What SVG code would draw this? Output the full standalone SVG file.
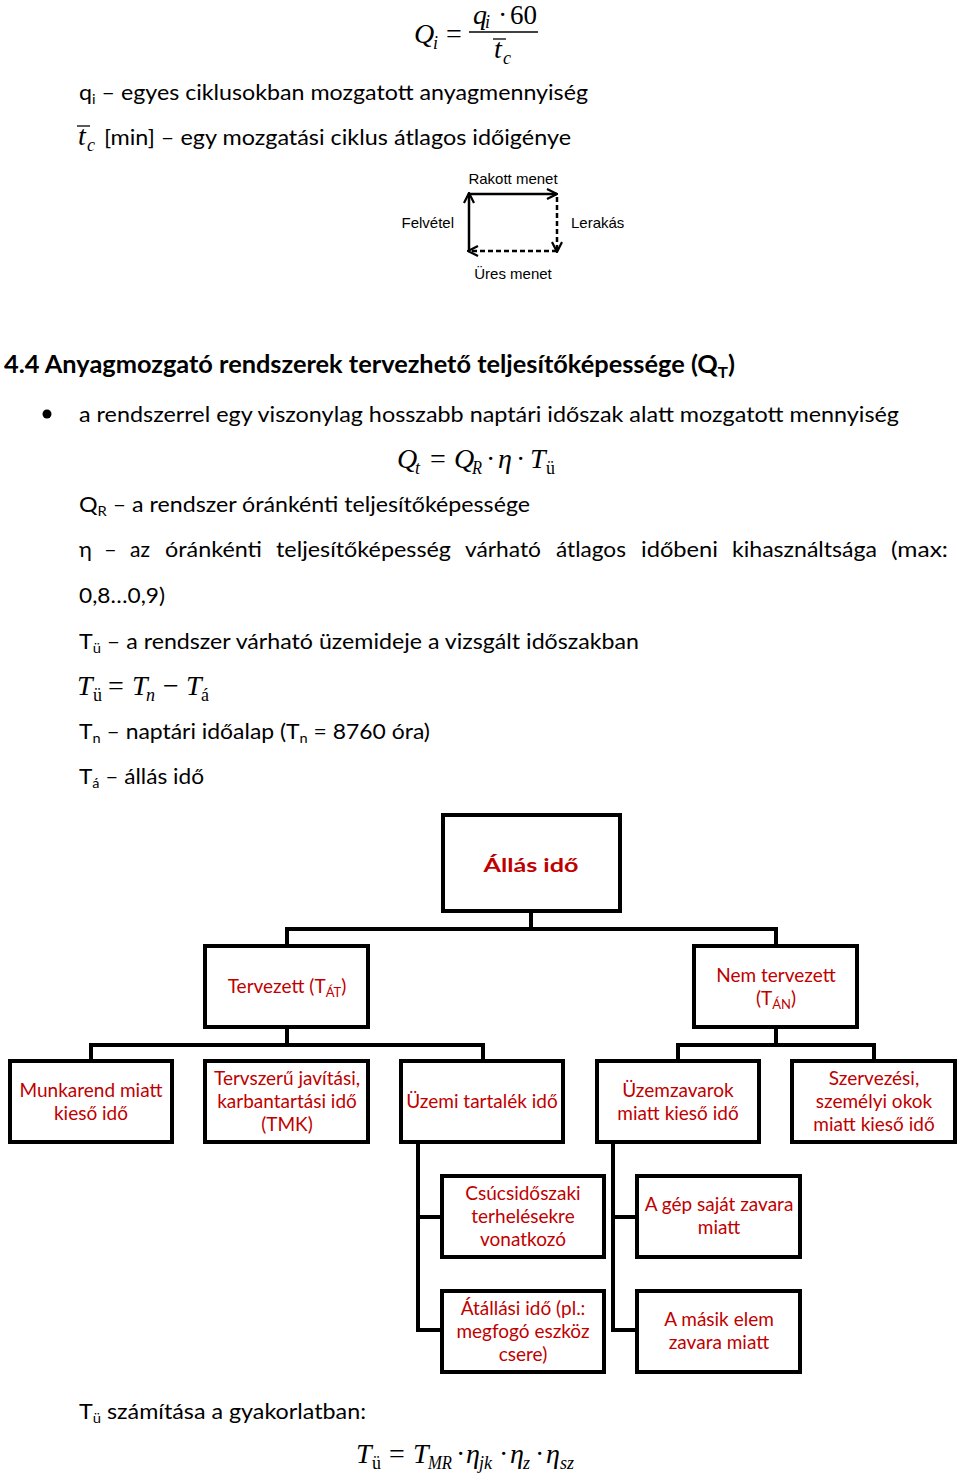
<svg xmlns="http://www.w3.org/2000/svg" width="960" height="1476" viewBox="0 0 960 1476">
<style>
.t{font-family:"Lato","Liberation Sans",sans-serif;font-size:22px;fill:#000}
.h{font-family:"Lato","Liberation Sans",sans-serif;font-size:24px;font-weight:bold;fill:#000}
.m{font-family:"Liberation Serif",serif;font-style:italic;font-size:28px;fill:#000}
.mu{font-family:"Liberation Serif",serif;font-size:28px;fill:#000}
.ms{font-family:"Liberation Serif",serif;font-style:italic;font-size:18px;fill:#000}
.msu{font-family:"Liberation Serif",serif;font-size:18px;fill:#000}
.a{font-family:"Liberation Sans",Arial,sans-serif;font-size:15px;fill:#000}
.box{fill:#fff;stroke:#000;stroke-width:4}
.bt{font-family:"Lato","Liberation Sans",sans-serif;font-size:19px;fill:#c00000;text-anchor:middle}
.conn{stroke:#000;stroke-width:4;fill:none}
.cyc{stroke:#000;stroke-width:2.5;fill:none}
.dash{stroke-dasharray:5,3}
</style>
<defs>
<marker id="arr" viewBox="0 0 12 12" refX="11" refY="6" markerWidth="12" markerHeight="12" markerUnits="userSpaceOnUse" orient="auto">
<path d="M1,1 L11,6 L1,11" fill="none" stroke="#000" stroke-width="2.2"/>
</marker>
</defs>

<!-- top formula -->
<g id="formula1">
<text class="m" x="414" y="43">Q</text><text class="ms" x="433" y="49">i</text>
<text class="mu" x="446" y="43">=</text>
<text class="m" x="473" y="24" font-size="23">q</text><text class="ms" x="485" y="28" font-size="15">i</text>
<text class="mu" x="498" y="24" font-size="23">·</text><text class="mu" x="510" y="24" font-size="24" textLength="27" lengthAdjust="spacingAndGlyphs">60</text>
<line x1="469" y1="32" x2="538" y2="32" stroke="#000" stroke-width="1.5"/>
<text class="m" x="494" y="58">t</text><text class="ms" x="503" y="64">c</text>
<line x1="493" y1="39" x2="506" y2="39" stroke="#000" stroke-width="1.3"/>
</g>

<g id="defs-text1">
<text class="t" x="79" y="100" textLength="509" lengthAdjust="spacingAndGlyphs">q<tspan font-size="14" dy="4">i</tspan><tspan dy="-4"> – egyes ciklusokban mozgatott anyagmennyiség</tspan></text>
<text class="m" x="78" y="145">t</text><text class="ms" x="87" y="151">c</text>
<line x1="77" y1="126" x2="90" y2="126" stroke="#000" stroke-width="1.3"/>
<text class="t" x="104" y="145" textLength="467" lengthAdjust="spacingAndGlyphs">[min] – egy mozgatási ciklus átlagos időigénye</text>
</g>

<!-- cycle diagram -->
<g id="cycle">
<text class="a" x="513" y="184" text-anchor="middle">Rakott menet</text>
<text class="a" x="454" y="228" text-anchor="end">Felvétel</text>
<text class="a" x="571" y="228">Lerakás</text>
<text class="a" x="513" y="279" text-anchor="middle">Üres menet</text>
<line class="cyc" x1="469" y1="194" x2="557" y2="194" marker-end="url(#arr)"/>
<line class="cyc" x1="469" y1="251" x2="469" y2="193" marker-end="url(#arr)"/>
<line class="cyc dash" x1="557" y1="197" x2="557" y2="252" marker-end="url(#arr)"/>
<line class="cyc dash" x1="557" y1="251" x2="468" y2="251" marker-end="url(#arr)"/>
</g>

<g id="section">
<text class="h" x="4" y="373" textLength="731" lengthAdjust="spacingAndGlyphs">4.4 Anyagmozgató rendszerek tervezhető teljesítőképessége (Q<tspan font-size="16" dy="5">T</tspan><tspan dy="-5">)</tspan></text>
<circle cx="47" cy="414" r="4.5" fill="#000"/>
<text class="t" x="79" y="422" textLength="820" lengthAdjust="spacingAndGlyphs">a rendszerrel egy viszonylag hosszabb naptári időszak alatt mozgatott mennyiség</text>
</g>

<g id="formula2">
<text class="m" x="397" y="468">Q</text><text class="ms" x="415" y="474">t</text>
<text class="mu" x="430" y="468">=</text>
<text class="m" x="454" y="468">Q</text><text class="ms" x="472" y="474" textLength="10" lengthAdjust="spacingAndGlyphs">R</text>
<text class="mu" x="486" y="468">·</text>
<text class="m" x="498" y="468">η</text>
<text class="mu" x="516" y="468">·</text>
<text class="m" x="530" y="468">T</text><text class="msu" x="546" y="474">ü</text>
</g>

<g id="text2">
<text class="t" x="79" y="512" textLength="451" lengthAdjust="spacingAndGlyphs">Q<tspan font-size="14" dy="4">R</tspan><tspan dy="-4"> – a rendszer óránkénti teljesítőképessége</tspan></text>
<text class="t" x="79" y="557">η</text>
<text class="t" x="104" y="557">–</text>
<text class="t" x="130" y="557" textLength="20" lengthAdjust="spacingAndGlyphs">az</text>
<text class="t" x="165" y="557" textLength="97" lengthAdjust="spacingAndGlyphs">óránkénti</text>
<text class="t" x="276" y="557" textLength="175" lengthAdjust="spacingAndGlyphs">teljesítőképesség</text>
<text class="t" x="465" y="557" textLength="76" lengthAdjust="spacingAndGlyphs">várható</text>
<text class="t" x="556" y="557" textLength="70" lengthAdjust="spacingAndGlyphs">átlagos</text>
<text class="t" x="641" y="557" textLength="77" lengthAdjust="spacingAndGlyphs">időbeni</text>
<text class="t" x="732" y="557" textLength="145" lengthAdjust="spacingAndGlyphs">kihasználtsága</text>
<text class="t" x="891" y="557" textLength="57" lengthAdjust="spacingAndGlyphs">(max:</text>
<text class="t" x="79" y="603" textLength="86" lengthAdjust="spacingAndGlyphs">0,8…0,9)</text>
<text class="t" x="79" y="649" textLength="560" lengthAdjust="spacingAndGlyphs">T<tspan font-size="14" dy="4">ü</tspan><tspan dy="-4"> – a rendszer várható üzemideje a vizsgált időszakban</tspan></text>
</g>

<g id="formula3">
<text class="m" x="77" y="695">T</text><text class="msu" x="93" y="701">ü</text>
<text class="mu" x="108" y="695">=</text>
<text class="m" x="132" y="695">T</text><text class="ms" x="146" y="701">n</text>
<text class="mu" x="163" y="695">−</text>
<text class="m" x="186" y="695">T</text><text class="msu" x="201" y="701">á</text>
</g>

<g id="text3">
<text class="t" x="79" y="739" textLength="351" lengthAdjust="spacingAndGlyphs">T<tspan font-size="14" dy="4">n</tspan><tspan dy="-4"> – naptári időalap (T</tspan><tspan font-size="14" dy="4">n</tspan><tspan dy="-4"> = 8760 óra)</tspan></text>
<text class="t" x="79" y="784" textLength="125" lengthAdjust="spacingAndGlyphs">T<tspan font-size="14" dy="4">á</tspan><tspan dy="-4"> – állás idő</tspan></text>
</g>

<!-- connectors -->
<g id="connectors">
<path class="conn" d="M531,911 V929 M287,946 V929 H776 V946"/>
<path class="conn" d="M287,1027 V1045 M91,1061 V1045 H483 V1061"/>
<path class="conn" d="M776,1027 V1045 M678,1061 V1045 H874 V1061"/>
<path class="conn" d="M418,1142 V1330 H442 M418,1217 H442"/>
<path class="conn" d="M613,1142 V1330 H637 M613,1217 H637"/>
</g>

<g id="root">
<rect class="box" x="443" y="815" width="177" height="96"/>
<text class="bt" x="531" y="872" font-size="30" font-weight="bold" textLength="95" lengthAdjust="spacingAndGlyphs">Állás idő</text>
</g>

<g id="tervezett">
<rect class="box" x="205" y="946" width="163" height="81"/>
<text class="bt" x="287" y="993">Tervezett (T<tspan font-size="13" dy="4">ÁT</tspan><tspan dy="-4">)</tspan></text>
</g>

<g id="nemtervezett">
<rect class="box" x="694" y="946" width="163" height="81"/>
<text class="bt" x="776" y="982">Nem tervezett</text>
<text class="bt" x="776" y="1005">(T<tspan font-size="13" dy="4">ÁN</tspan><tspan dy="-4">)</tspan></text>
</g>

<g id="munkarend">
<rect class="box" x="10" y="1061" width="162" height="81"/>
<text class="bt" x="91" y="1097">Munkarend miatt</text>
<text class="bt" x="91" y="1120">kieső idő</text>
</g>

<g id="tmk">
<rect class="box" x="205" y="1061" width="163" height="81"/>
<text class="bt" x="287" y="1085">Tervszerű javítási,</text>
<text class="bt" x="287" y="1108">karbantartási idő</text>
<text class="bt" x="287" y="1131">(TMK)</text>
</g>

<g id="tartalek">
<rect class="box" x="401" y="1061" width="162" height="81"/>
<text class="bt" x="482" y="1108">Üzemi tartalék idő</text>
</g>

<g id="uzemzavar">
<rect class="box" x="597" y="1061" width="162" height="81"/>
<text class="bt" x="678" y="1097">Üzemzavarok</text>
<text class="bt" x="678" y="1120">miatt kieső idő</text>
</g>

<g id="szervezesi">
<rect class="box" x="792" y="1061" width="163" height="81"/>
<text class="bt" x="874" y="1085">Szervezési,</text>
<text class="bt" x="874" y="1108">személyi okok</text>
<text class="bt" x="874" y="1131">miatt kieső idő</text>
</g>

<g id="csucs">
<rect class="box" x="442" y="1176" width="162" height="81"/>
<text class="bt" x="523" y="1200">Csúcsidőszaki</text>
<text class="bt" x="523" y="1223">terhelésekre</text>
<text class="bt" x="523" y="1246">vonatkozó</text>
</g>

<g id="atallas">
<rect class="box" x="442" y="1291" width="162" height="81"/>
<text class="bt" x="523" y="1315">Átállási idő (pl.:</text>
<text class="bt" x="523" y="1338">megfogó eszköz</text>
<text class="bt" x="523" y="1361">csere)</text>
</g>

<g id="gep">
<rect class="box" x="637" y="1176" width="163" height="81"/>
<text class="bt" x="719" y="1211">A gép saját zavara</text>
<text class="bt" x="719" y="1234">miatt</text>
</g>

<g id="masik">
<rect class="box" x="637" y="1291" width="163" height="81"/>
<text class="bt" x="719" y="1326">A másik elem</text>
<text class="bt" x="719" y="1349">zavara miatt</text>
</g>

<g id="bottom">
<text class="t" x="79" y="1419" textLength="287" lengthAdjust="spacingAndGlyphs">T<tspan font-size="14" dy="4">ü</tspan><tspan dy="-4"> számítása a gyakorlatban:</tspan></text>
<text class="m" x="356" y="1463">T</text><text class="msu" x="372" y="1469">ü</text>
<text class="mu" x="389" y="1463">=</text>
<text class="m" x="413" y="1463">T</text><text class="ms" x="428" y="1469" textLength="24" lengthAdjust="spacingAndGlyphs">MR</text>
<text class="mu" x="456" y="1463">·</text>
<text class="m" x="466" y="1463">η</text><text class="ms" x="479" y="1469">jk</text>
<text class="mu" x="499" y="1463">·</text>
<text class="m" x="510" y="1463">η</text><text class="ms" x="523" y="1469">z</text>
<text class="mu" x="535" y="1463">·</text>
<text class="m" x="546" y="1463">η</text><text class="ms" x="560" y="1469">sz</text>
</g>
</svg>
